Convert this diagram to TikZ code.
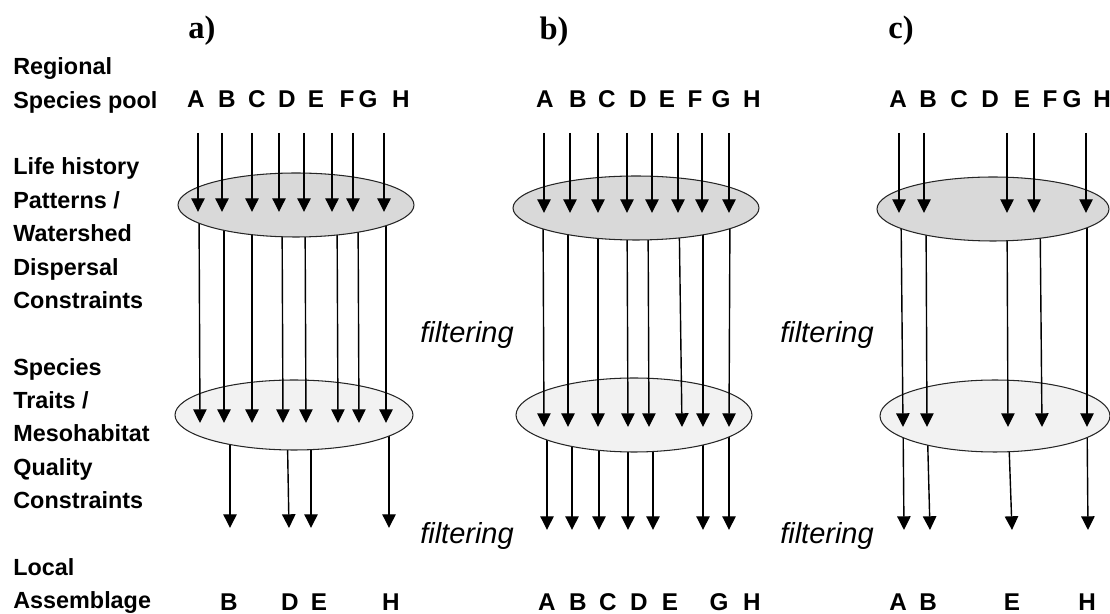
\documentclass[tikz,border=0pt]{standalone}
\usepackage{fontspec}
\setmainfont{Liberation Sans}
\newfontfamily\panelfont{Liberation Serif}
\usetikzlibrary{arrows.meta}
\usetikzlibrary{shapes.geometric}
\usetikzlibrary{positioning}
\definecolor{histgray}{HTML}{D9D9D9}
\definecolor{traitgray}{HTML}{F2F2F2}
\tikzstyle{level} = [
    align=left,
    anchor=north west,
    inner sep=0pt,
    font=\bfseries\fontsize{13.3}{19}\selectfont
]
\tikzstyle{species} = [
    inner sep=0pt,
    font=\bfseries\fontsize{13.8}{16}\selectfont
]
\tikzstyle{panel} = [
    inner sep=0pt,
    font=\panelfont\bfseries\fontsize{18.5}{20}\selectfont
]
\tikzstyle{filt} = [
    inner sep=0pt,
    font=\itshape\fontsize{16.5}{18}\selectfont
]
\tikzstyle{lifehist} = [
    ellipse,
    draw=black!85,
    line width=0.6pt,
    fill=histgray,
    inner sep=0pt
]
\tikzstyle{traits} = [
    ellipse,
    draw=black!85,
    line width=0.6pt,
    fill=traitgray,
    inner sep=0pt
]
\tikzstyle{tran} = [
    draw,
    line width=0.8pt,
    -{Triangle[width=7.6pt,length=7.8pt]}
]

\begin{document}
\begin{tikzpicture}[x=0.02cm, y=-0.02cm]
\useasboundingbox (0,0) rectangle (1110,614);

\node[level] (levels) at (13,57.5)
{Regional\\Species pool\\[19pt]
Life history\\Patterns /\\Watershed\\Dispersal\\Constraints\\[19pt]
Species\\Traits /\\Mesohabitat\\Quality\\Constraints\\[19pt]
Local\\Assemblage};

\node[panel] (titleA) at (202,31) {a)};
\node[panel] (titleB) at (554,32) {b)};
\node[panel] (titleC) at (901,31) {c)};

\node[filt] (filtAB1) at (467,335) {filtering};
\node[filt] (filtAB2) at (467,536) {filtering};
\node[filt] (filtBC1) at (827,335) {filtering};
\node[filt] (filtBC2) at (827,536) {filtering};

% species pools and local assemblages
\foreach \s/\x in {A/196,B/227,C/257,D/287,E/316,F/347,G/368,H/401}
    \node[species] (poolA\s) at (\x,99) {\s};
\foreach \s/\x in {A/545,B/578,C/607,D/638,E/667,F/695,G/721,H/752}
    \node[species] (poolB\s) at (\x,99) {\s};
\foreach \s/\x in {A/898,B/928,C/959,D/990,E/1022,F/1050,G/1072,H/1102}
    \node[species] (poolC\s) at (\x,99) {\s};
\foreach \s/\x in {B/229,D/290,E/319,H/391}
    \node[species] (localA\s) at (\x,602) {\s};
\foreach \s/\x in {A/547,B/578,C/608,D/639,E/670,G/719,H/752}
    \node[species] (localB\s) at (\x,602) {\s};
\foreach \s/\x in {A/898,B/928,E/1012,H/1087}
    \node[species] (localC\s) at (\x,602) {\s};

% a)
\foreach \x/\y in {230/230,287/289,311/311,389/389}
    \draw[tran] (\x,415) -- (\y,528);
\node[traits, minimum width=4.76cm, minimum height=1.4cm] (traitsA) at (294,415) {};
\foreach \x/\y in {199/200,224/224,252/252,282/283,305/306,337/338,358/359,386/386}
    \draw[tran] (\x,205) -- (\y,423);
\node[lifehist, minimum width=4.72cm, minimum height=1.28cm] (lifeA) at (296,205) {};
\foreach \x in {198,222,252,279,304,332,353,384}
    \draw[tran] (\x,133) -- (\x,212);

% b)
\foreach \x/\y in {547/547,572/572,599/599,628/628,653/653,703/703,729/729}
    \draw[tran] (\x,415) -- (\y,530);
\node[traits, minimum width=4.72cm, minimum height=1.48cm] (traitsB) at (634,415) {};
\foreach \x/\y in {543/544,568/568,598/598,627/628,648/649,679/682,703/703,730/729}
    \draw[tran] (\x,208) -- (\y,427);
\node[lifehist, minimum width=4.92cm, minimum height=1.28cm] (lifeB) at (636,208) {};
\foreach \x in {544,570,598,627,652,678,702,729}
    \draw[tran] (\x,133) -- (\x,213);

% c)
\foreach \x/\y in {903/904,927/930,1008/1012,1087/1088}
    \draw[tran] (\x,416) -- (\y,530);
\node[traits, minimum width=4.6cm, minimum height=1.44cm] (traitsC) at (995,416) {};
\foreach \x/\y in {901/903,926/927,1007/1008,1040/1042,1087/1087}
    \draw[tran] (\x,209) -- (\y,427);
\node[lifehist, minimum width=4.64cm, minimum height=1.28cm] (lifeC) at (993,209) {};
\foreach \x in {899,924,1007,1034,1086}
    \draw[tran] (\x,133) -- (\x,213);
\end{tikzpicture}
\end{document}
